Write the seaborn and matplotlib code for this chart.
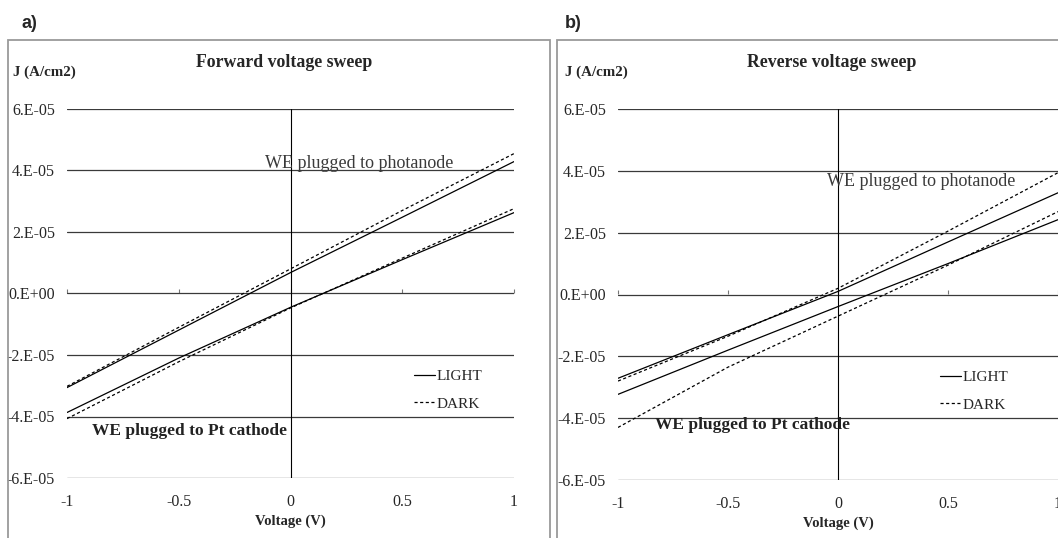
import matplotlib
matplotlib.use("Agg")
import matplotlib.pyplot as plt
import seaborn as sns
import pandas as pd
from matplotlib.patches import Rectangle

# voltage points (V)
voltage = [-1.0, -0.5, 0.0, 0.5, 1.0]

# forward sweep, current density (A/cm2)
fwd_anode_light = [-3.06e-05, -1.19e-05, 0.68e-05, 2.48e-05, 4.29e-05]
fwd_anode_dark = [-3.02e-05, -1.10e-05, 0.80e-05, 2.70e-05, 4.55e-05]
fwd_cathode_light = [-3.87e-05, -2.10e-05, -0.45e-05, 1.10e-05, 2.63e-05]
fwd_cathode_dark = [-4.07e-05, -2.22e-05, -0.47e-05, 1.15e-05, 2.76e-05]

# reverse sweep
rev_anode_light = [-2.71e-05, -1.30e-05, 0.10e-05, 1.70e-05, 3.29e-05]
rev_anode_dark = [-2.80e-05, -1.35e-05, 0.20e-05, 2.05e-05, 3.94e-05]
rev_cathode_light = [-3.23e-05, -1.80e-05, -0.39e-05, 1.00e-05, 2.42e-05]
rev_cathode_dark = [-4.30e-05, -2.35e-05, -0.70e-05, 0.95e-05, 2.68e-05]

y_ticks = [6e-05, 4e-05, 2e-05, 0.0, -2e-05, -4e-05, -6e-05]
y_tick_labels = ["6.E-05", "4.E-05", "2.E-05", "0.E+00", "-2.E-05", "-4.E-05", "-6.E-05"]
x_ticks = [-1, -0.5, 0, 0.5, 1]
x_tick_labels = ["-1", "-0.5", "0", "0.5", "1"]


def build_df(anode_light, anode_dark, cathode_light, cathode_dark):
    filas = []
    for we, cond, serie in [("anode", "LIGHT", anode_light), ("anode", "DARK", anode_dark),
                            ("cathode", "LIGHT", cathode_light), ("cathode", "DARK", cathode_dark)]:
        for v, j in zip(voltage, serie):
            filas.append({"V": v, "J": j, "WE": we, "cond": cond})
    return pd.DataFrame(filas)


df_fwd = build_df(fwd_anode_light, fwd_anode_dark, fwd_cathode_light, fwd_cathode_dark)
df_rev = build_df(rev_anode_light, rev_anode_dark, rev_cathode_light, rev_cathode_dark)

sns.set_style("white")
plt.rcParams["font.family"] = ["Liberation Serif", "DejaVu Serif"]

W, H = 1058, 538
fig = plt.figure(figsize=(W / 100, H / 100), dpi=100)

# gray panel frames
fig.add_artist(Rectangle((8 / W, -0.05), 542 / W, 1.05 - 40 / H, transform=fig.transFigure,
                         fill=False, edgecolor="#9a9a9a", lw=1.3))
fig.add_artist(Rectangle((557 / W, -0.05), 0.6, 1.05 - 40 / H, transform=fig.transFigure,
                         fill=False, edgecolor="#9a9a9a", lw=1.3))

ax1 = fig.add_axes([67 / W, 1 - 478 / H, 447 / W, 369 / H])
ax2 = fig.add_axes([618 / W, 1 - 480 / H, 440 / W, 371 / H])

dashes = {"LIGHT": "", "DARK": (2.5, 2)}

paneles = [
    (ax1, df_fwd, "Forward voltage sweep", (0.306, 4.23e-05), (-0.452, -4.46e-05), (0.776, 0.238)),
    (ax2, df_rev, "Reverse voltage sweep", (0.38, 3.65e-05), (-0.39, -4.23e-05), (0.732, 0.24)),
]

for ax, df, titulo, pos_anodo, pos_catodo, pos_leyenda in paneles:
    ax.set_facecolor("none")
    sns.lineplot(data=df, x="V", y="J", style="cond", units="WE", estimator=None,
                 dashes=dashes, color="black", lw=0.9, sort=True, ax=ax,
                 style_order=["LIGHT", "DARK"])
    ax.set_xlim(-1, 1)
    ax.set_ylim(-6e-05, 6e-05)
    ax.set_yticks(y_ticks)
    ax.set_yticklabels(y_tick_labels)
    ax.set_xticks(x_ticks)
    ax.set_xticklabels(x_tick_labels)
    ax.tick_params(length=0, labelsize=11.5)
    ax.tick_params(axis="y", pad=8.6)
    ax.tick_params(axis="x", pad=11.5)
    for s in ax.spines.values():
        s.set_visible(False)
    ax.yaxis.grid(True, color="#3a3a3a", lw=0.9)
    ax.xaxis.grid(False)
    ax.axvline(0, color="black", lw=0.8)

    # small ticks on the zero line
    sec = ax.secondary_xaxis(0.5)
    sec.set_xticks(x_ticks)
    sec.tick_params(length=3, color="#777777", labelbottom=False, labeltop=False)
    sec.spines["top"].set_visible(False)
    sec.spines["bottom"].set_visible(False)

    ax.set_xlabel("Voltage (V)", fontsize=10.5, fontweight="bold", labelpad=3.5)
    ax.set_ylabel("")
    ax.text(0.485, 1.125, titulo, transform=ax.transAxes, ha="center", va="center",
            fontsize=12.8, fontweight="bold")
    ax.text(-0.121, 1.10, "J (A/cm2)", transform=ax.transAxes, ha="left", va="center",
            fontsize=10.8, fontweight="bold")
    ax.text(pos_anodo[0], pos_anodo[1], "WE plugged to photanode", ha="center", va="center",
            fontsize=13, color="#3a3a3a")
    ax.text(pos_catodo[0], pos_catodo[1], "WE plugged to Pt cathode", ha="center", va="center",
            fontsize=12.5, fontweight="bold", color="#222222")

    handles, labels = ax.get_legend_handles_labels()
    ax.legend(handles, labels, loc="center left", bbox_to_anchor=pos_leyenda, frameon=False,
              fontsize=11, handlelength=1.4, handletextpad=0.1, labelspacing=0.9, borderpad=0,
              borderaxespad=0)

fig.text(22 / W, 1 - 24 / H, "a)", fontsize=13, fontweight="bold", family="Liberation Sans",
         ha="left", va="center")
fig.text(565 / W, 1 - 24 / H, "b)", fontsize=13, fontweight="bold", family="Liberation Sans",
         ha="left", va="center")

fig.savefig("out.png", dpi=100, facecolor="white")
